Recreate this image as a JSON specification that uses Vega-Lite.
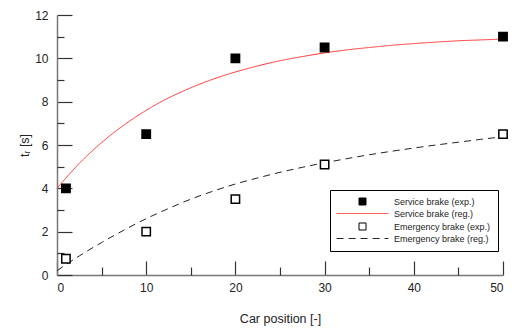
{
  "$schema": "https://vega.github.io/schema/vega-lite/v6.json",
  "width": 446,
  "height": 260,
  "autosize": "none",
  "padding": {"left": 57, "top": 15, "right": 9, "bottom": 55},
  "config": {
    "font": "Liberation Sans",
    "view": {"stroke": null},
    "axis": {"grid": false, "labelColor": "#222", "titleColor": "#222", "labelFontWeight": "normal", "titleFontWeight": "normal", "domainColor": "#777", "domainWidth": 1.5, "tickColor": "#333", "tickWidth": 1.2},
    "legend": {
      "orient": "none",
      "legendX": 273,
      "legendY": 175,
      "padding": 7,
      "fillColor": "white",
      "strokeColor": "black",
      "cornerRadius": 0,
      "symbolSize": 49,
      "symbolStrokeWidth": 1,
      "symbolOpacity": 1,
      "symbolOffset": 21,
      "labelOffset": 27,
      "labelFontSize": 9,
      "labelColor": "#222",
      "rowPadding": 2
    }
  },
  "layer": [
    {
      "data": {"values": [
        {"series": "Service brake (reg.)", "x": 0, "y": 4.0},
        {"series": "Service brake (reg.)", "x": 2.5, "y": 5.15},
        {"series": "Service brake (reg.)", "x": 5, "y": 6.11},
        {"series": "Service brake (reg.)", "x": 7.5, "y": 6.92},
        {"series": "Service brake (reg.)", "x": 10, "y": 7.6},
        {"series": "Service brake (reg.)", "x": 12.5, "y": 8.17},
        {"series": "Service brake (reg.)", "x": 15, "y": 8.64},
        {"series": "Service brake (reg.)", "x": 17.5, "y": 9.04},
        {"series": "Service brake (reg.)", "x": 20, "y": 9.37},
        {"series": "Service brake (reg.)", "x": 22.5, "y": 9.65},
        {"series": "Service brake (reg.)", "x": 25, "y": 9.89},
        {"series": "Service brake (reg.)", "x": 27.5, "y": 10.08},
        {"series": "Service brake (reg.)", "x": 30, "y": 10.25},
        {"series": "Service brake (reg.)", "x": 32.5, "y": 10.39},
        {"series": "Service brake (reg.)", "x": 35, "y": 10.5},
        {"series": "Service brake (reg.)", "x": 37.5, "y": 10.6},
        {"series": "Service brake (reg.)", "x": 40, "y": 10.68},
        {"series": "Service brake (reg.)", "x": 42.5, "y": 10.75},
        {"series": "Service brake (reg.)", "x": 45, "y": 10.81},
        {"series": "Service brake (reg.)", "x": 47.5, "y": 10.85},
        {"series": "Service brake (reg.)", "x": 50, "y": 10.89},
        {"series": "Emergency brake (reg.)", "x": 0, "y": 0.2},
        {"series": "Emergency brake (reg.)", "x": 2.5, "y": 0.88},
        {"series": "Emergency brake (reg.)", "x": 5, "y": 1.5},
        {"series": "Emergency brake (reg.)", "x": 7.5, "y": 2.07},
        {"series": "Emergency brake (reg.)", "x": 10, "y": 2.6},
        {"series": "Emergency brake (reg.)", "x": 12.5, "y": 3.07},
        {"series": "Emergency brake (reg.)", "x": 15, "y": 3.5},
        {"series": "Emergency brake (reg.)", "x": 17.5, "y": 3.87},
        {"series": "Emergency brake (reg.)", "x": 20, "y": 4.2},
        {"series": "Emergency brake (reg.)", "x": 22.5, "y": 4.48},
        {"series": "Emergency brake (reg.)", "x": 25, "y": 4.74},
        {"series": "Emergency brake (reg.)", "x": 27.5, "y": 4.97},
        {"series": "Emergency brake (reg.)", "x": 30, "y": 5.18},
        {"series": "Emergency brake (reg.)", "x": 32.5, "y": 5.37},
        {"series": "Emergency brake (reg.)", "x": 35, "y": 5.55},
        {"series": "Emergency brake (reg.)", "x": 37.5, "y": 5.71},
        {"series": "Emergency brake (reg.)", "x": 40, "y": 5.86},
        {"series": "Emergency brake (reg.)", "x": 42.5, "y": 6.0},
        {"series": "Emergency brake (reg.)", "x": 45, "y": 6.13},
        {"series": "Emergency brake (reg.)", "x": 47.5, "y": 6.26},
        {"series": "Emergency brake (reg.)", "x": 50, "y": 6.38}
      ]},
      "mark": {"type": "line", "strokeWidth": 1, "interpolate": "monotone"},
      "encoding": {
        "x": {"field": "x", "type": "quantitative", "scale": {"domain": [0, 50], "nice": false},
          "axis": {"orient": "bottom", "values": [0, 10, 20, 30, 40, 50], "tickSize": -14, "labelPadding": 21, "labelFontSize": 12, "title": "Car position [-]", "titleFontSize": 12.5, "titlePadding": 19}},
        "y": {"field": "y", "type": "quantitative", "scale": {"domain": [0, 12], "nice": false},
          "axis": {"orient": "left", "values": [0, 2, 4, 6, 8, 10, 12], "tickSize": -15, "labelPadding": 24, "labelFontSize": 12, "title": "tᵣ [s]", "titleFontSize": 12.5, "titlePadding": 3}},
        "stroke": {"field": "series", "type": "nominal",
          "scale": {"domain": ["Service brake (exp.)", "Service brake (reg.)", "Emergency brake (exp.)", "Emergency brake (reg.)"], "range": ["black", "#ff3030", "black", "#222222"]},
          "legend": {"title": null}},
        "strokeDash": {"field": "series", "type": "nominal",
          "scale": {"domain": ["Service brake (exp.)", "Service brake (reg.)", "Emergency brake (exp.)", "Emergency brake (reg.)"], "range": [[1, 0], [1, 0], [1, 0], [7, 5]]},
          "legend": {"title": null}}
      }
    },
    {
      "data": {"values": [
        {"series": "Service brake (exp.)", "x": 1, "y": 4.0},
        {"series": "Service brake (exp.)", "x": 10, "y": 6.5},
        {"series": "Service brake (exp.)", "x": 20, "y": 10.0},
        {"series": "Service brake (exp.)", "x": 30, "y": 10.5},
        {"series": "Service brake (exp.)", "x": 50, "y": 11.0},
        {"series": "Emergency brake (exp.)", "x": 1, "y": 0.75},
        {"series": "Emergency brake (exp.)", "x": 10, "y": 2.0},
        {"series": "Emergency brake (exp.)", "x": 20, "y": 3.5},
        {"series": "Emergency brake (exp.)", "x": 30, "y": 5.1},
        {"series": "Emergency brake (exp.)", "x": 50, "y": 6.5}
      ]},
      "mark": {"type": "point", "opacity": 1, "strokeWidth": 1.5, "size": 70},
      "encoding": {
        "x": {"field": "x", "type": "quantitative", "scale": {"domain": [0, 50], "nice": false},
          "axis": {"orient": "bottom", "values": [5, 15, 25, 35, 45], "tickSize": -8, "labels": false, "domain": false, "title": null}},
        "y": {"field": "y", "type": "quantitative", "scale": {"domain": [0, 12], "nice": false},
          "axis": {"orient": "left", "values": [1, 3, 5, 7, 9, 11], "tickSize": -7, "labels": false, "domain": false, "title": null}},
        "stroke": {"field": "series", "type": "nominal",
          "scale": {"domain": ["Service brake (exp.)", "Service brake (reg.)", "Emergency brake (exp.)", "Emergency brake (reg.)"], "range": ["black", "#ff3030", "black", "#222222"]},
          "legend": {"title": null}},
        "fill": {"field": "series", "type": "nominal",
          "scale": {"domain": ["Service brake (exp.)", "Service brake (reg.)", "Emergency brake (exp.)", "Emergency brake (reg.)"], "range": ["black", "transparent", "white", "transparent"]},
          "legend": {"title": null}},
        "shape": {"field": "series", "type": "nominal",
          "scale": {"domain": ["Service brake (exp.)", "Service brake (reg.)", "Emergency brake (exp.)", "Emergency brake (reg.)"], "range": ["square", "M-7.4,0H7.4", "square", "M-7.4,0H7.4"]},
          "legend": {"title": null}}
      }
    }
  ],
  "resolve": {"axis": {"x": "independent", "y": "independent"}}
}
